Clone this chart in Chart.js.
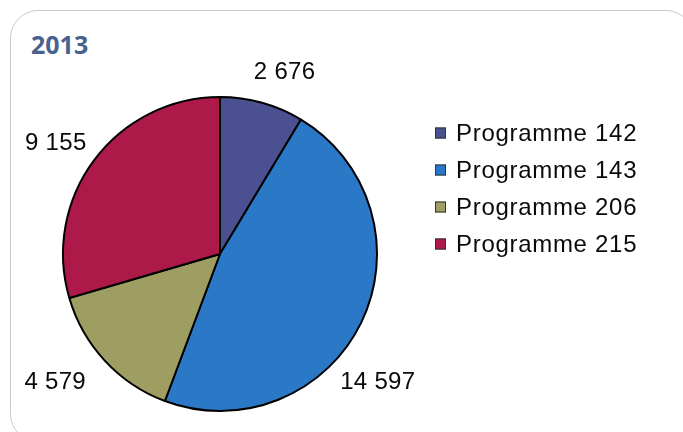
<!DOCTYPE html>
<html>
<head>
<meta charset="utf-8">
<script src="https://cdn.jsdelivr.net/npm/chart.js@4/dist/chart.umd.min.js"></script>
<style>
    html, body { margin: 0; padding: 0; background: #fff; overflow: hidden; }
    #wrap { position: relative; width: 683px; height: 432px; }
    #frame {
        position: absolute; left: 10px; top: 10px; width: 684px; height: 432px;
        border: 1px solid #c9c9c9; border-radius: 28px; box-sizing: border-box;
    }
    #title {
        position: absolute; left: 31px; top: 27px;
        font-family: "Open Sans", sans-serif; font-weight: bold; font-size: 25px;
        color: #47628f;
    }
    canvas { position: absolute; left: 0; top: 0; }
</style>
</head>
<body>
<div id="wrap">
    <div id="frame"></div>
    <div id="title">2013</div>
    <canvas id="pieChart" width="683" height="432"></canvas>
</div>
<script>
// données 2013
const categories = ['Programme 142', 'Programme 143', 'Programme 206', 'Programme 215'];
const values = [2676, 14597, 4579, 9155];
const valueLabels = ['2 676', '14 597', '4 579', '9 155'];
const colors = ['#4b5190', '#2b78c6', '#9e9d62', '#ad1a4a'];

// décalages des étiquettes de valeurs (px)
const labelNudge = [[15, -3], [-9, 48], [-29, 2], [-16, 0]];

const valueLabelsPlugin = {
    id: 'valueLabels',
    afterDatasetsDraw: function(chart) {
        const ctx = chart.ctx;
        const meta = chart.getDatasetMeta(0);
        ctx.save();
        ctx.font = '24px "Liberation Sans", Arial, sans-serif';
        ctx.letterSpacing = '0.3px';
        ctx.fillStyle = '#0a0a0a';
        ctx.textAlign = 'center';
        ctx.textBaseline = 'middle';
        meta.data.forEach(function(arc, i) {
            const p = arc.getProps(['x', 'y', 'startAngle', 'endAngle', 'outerRadius'], true);
            const mid = (p.startAngle + p.endAngle) / 2;
            const r = p.outerRadius * 1.18;
            const x = p.x + Math.cos(mid) * r + labelNudge[i][0];
            const y = p.y + Math.sin(mid) * r + labelNudge[i][1];
            ctx.fillText(valueLabels[i], x, y);
        });
        ctx.restore();
    }
};

const legendPlugin = {
    id: 'sideLegend',
    afterDraw: function(chart) {
        const ctx = chart.ctx;
        ctx.save();
        ctx.font = '24px "Liberation Sans", Arial, sans-serif';
        ctx.letterSpacing = '0.7px';
        ctx.textBaseline = 'middle';
        categories.forEach(function(name, i) {
            const y = 133 + i * 37;
            ctx.fillStyle = colors[i];
            ctx.fillRect(435, y - 5.5, 11, 11);
            ctx.strokeStyle = '#333';
            ctx.lineWidth = 1;
            ctx.strokeRect(435.5, y - 5, 10, 10);
            ctx.fillStyle = '#0a0a0a';
            ctx.fillText(name, 456, y + 1);
        });
        ctx.restore();
    }
};

const ctx = document.getElementById('pieChart').getContext('2d');
const chart = new Chart(ctx, {
    type: 'pie',
    data: {
        labels: categories,
        datasets: [{
            data: values,
            backgroundColor: colors,
            borderColor: '#000',
            borderWidth: 2
        }]
    },
    options: {
        responsive: false,
        animation: false,
        layout: {
            padding: { left: 62, right: 305, top: 96, bottom: 20 }
        },
        plugins: {
            legend: { display: false },
            tooltip: { enabled: false }
        }
    },
    plugins: [valueLabelsPlugin, legendPlugin]
});
</script>
</body>
</html>
